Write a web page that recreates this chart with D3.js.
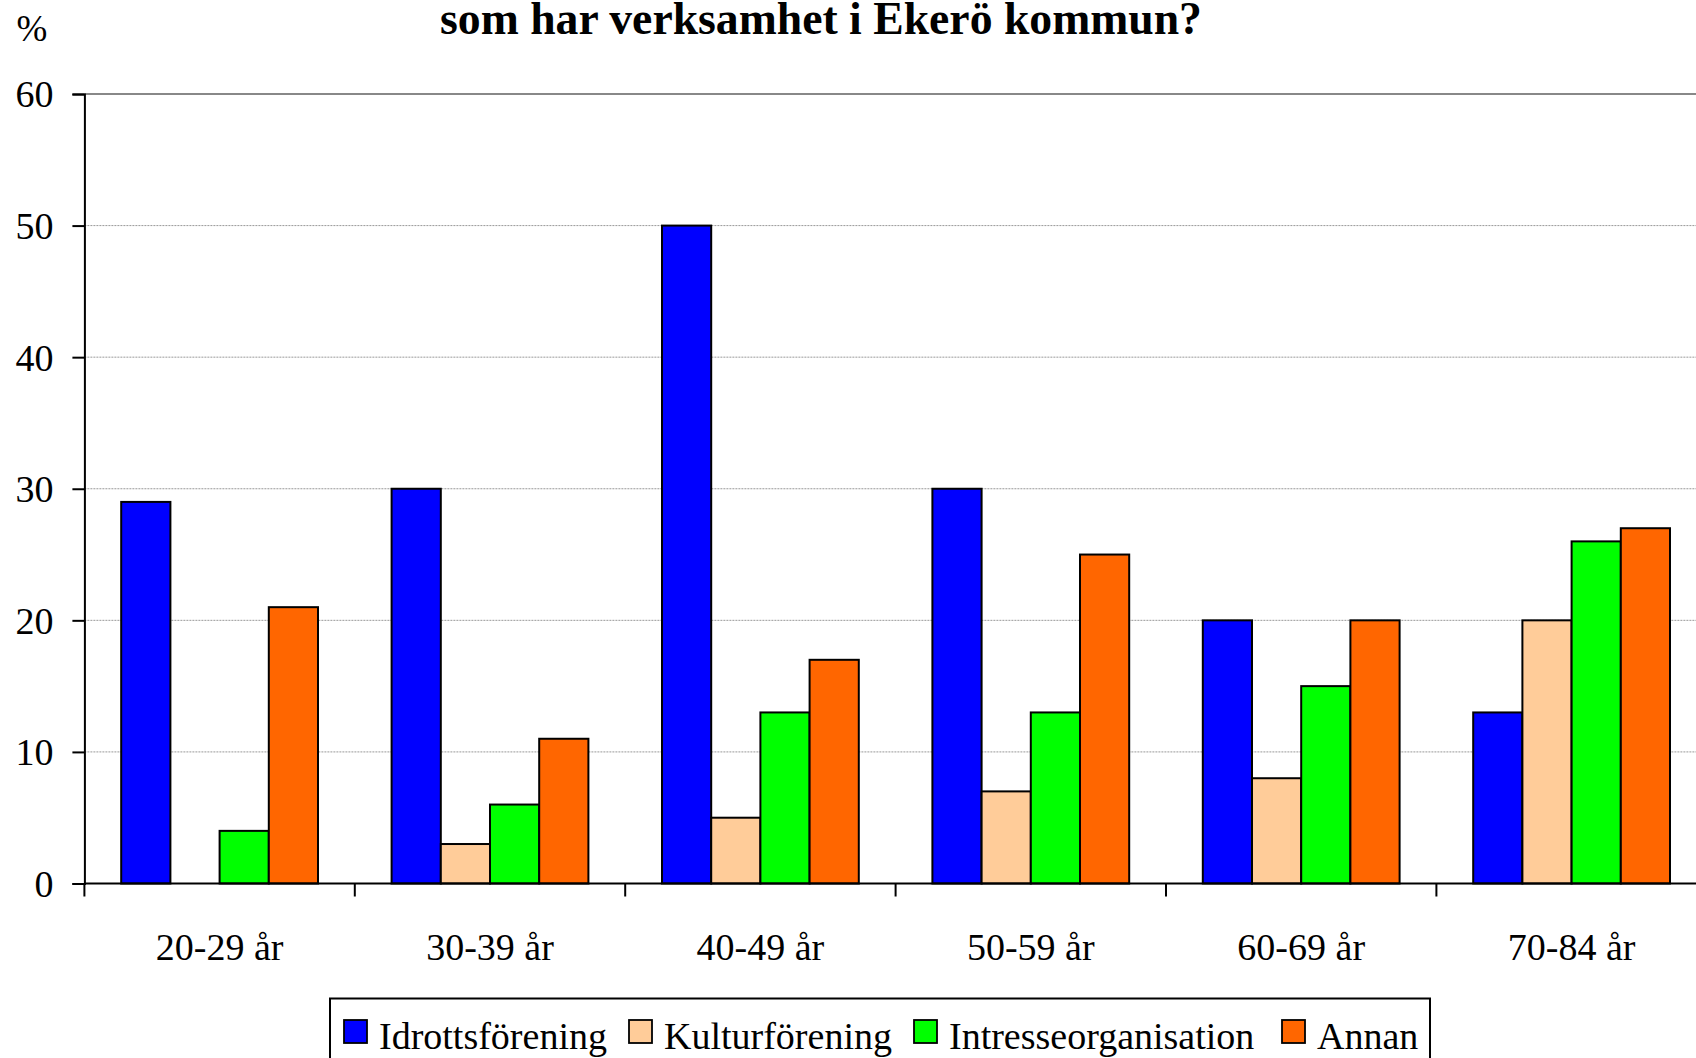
<!DOCTYPE html>
<html><head><meta charset="utf-8">
<script src="https://cdn.jsdelivr.net/npm/d3@7"></script>
<style>html,body{margin:0;padding:0;background:#fff;overflow:hidden}</style>
</head><body>
<script>
const categories = ["20-29 år","30-39 år","40-49 år","50-59 år","60-69 år","70-84 år"];
const seriesNames = ["Idrottsförening","Kulturförening","Intresseorganisation","Annan"];
const idrott = [29,30,50,30,20,13];
const kultur = [0,3,5,7,8,20];
const intresse = [4,6,13,13,15,26];
const annan = [21,11,17,25,20,27];
const yTicks = [0,10,20,30,40,50,60];
const colors = ["#0000FF","#FFCC99","#00FF00","#FF6600"];
const seriesValues = [idrott,kultur,intresse,annan];

const W=1696,H=1058;
const svg=d3.select("body").append("svg").attr("width",W).attr("height",H);
const font="'Liberation Serif','Times New Roman',serif";

const x0=84.4, bandW=270.4;
const x=d3.scaleBand().domain(categories).range([x0,x0+bandW*categories.length]).padding(0);
const xs=d3.scaleBand().domain(seriesNames).range([36.8,bandW-36.8]).padding(0);
const y=d3.scaleLinear().domain([0,60]).range([883.5,94]);

// gridlines
svg.append("g").selectAll("line").data(yTicks.filter(d=>d>0)).join("line")
  .attr("x1",x0).attr("x2",W).attr("y1",d=>y(d)).attr("y2",d=>y(d))
  .attr("stroke",d=>d===60?"#888":"#999").attr("stroke-width",d=>d===60?2:1)
  .attr("stroke-dasharray",d=>d===60?null:"2,1");

// bars
const data=[];
categories.forEach((c,i)=>seriesNames.forEach((s,j)=>data.push({c,s,v:seriesValues[j][i],j})));
svg.append("g").selectAll("rect").data(data.filter(d=>d.v>0)).join("rect")
  .attr("x",d=>x(d.c)+xs(d.s)).attr("width",xs.bandwidth())
  .attr("y",d=>y(d.v)).attr("height",d=>y(0)-y(d.v))
  .attr("fill",d=>colors[d.j]).attr("stroke","#000").attr("stroke-width",2);

// y axis
const ya=svg.append("g").attr("transform",`translate(${x0},0)`)
  .call(d3.axisLeft(y).tickValues(yTicks).tickSize(12).tickPadding(19).tickFormat(d3.format("d")));
ya.select(".domain").attr("stroke","#000").attr("stroke-width",2);
ya.selectAll(".tick line").attr("stroke","#000").attr("stroke-width",2);
ya.selectAll("text").attr("font-family",font).attr("font-size",38).attr("fill","#000").attr("dy","0.34em");

// x axis
const xa=svg.append("g").attr("transform",`translate(0,${y(0)})`)
  .call(d3.axisBottom(x).tickSize(0).tickPadding(0));
xa.select(".domain").remove();
xa.append("line").attr("x1",x0).attr("x2",W).attr("stroke","#000").attr("stroke-width",2);
xa.selectAll(".tick text").attr("font-family",font).attr("font-size",38).attr("fill","#000")
  .attr("dy",null).attr("y",76);
const boundaries=d3.range(categories.length+1).map(i=>x0+i*bandW);
xa.append("g").selectAll("line").data(boundaries).join("line")
  .attr("x1",d=>d).attr("x2",d=>d).attr("y1",0).attr("y2",13).attr("stroke","#000").attr("stroke-width",2);

// title & unit
svg.append("text").attr("x",821).attr("y",34).attr("text-anchor","middle")
  .attr("font-family",font).attr("font-weight","bold").attr("font-size",45.7)
  .text("som har verksamhet i Ekerö kommun?");
svg.append("text").attr("x",32).attr("y",41).attr("text-anchor","middle")
  .attr("font-family",font).attr("font-size",37).text("%");

// legend
const lg=svg.append("g");
lg.append("rect").attr("x",330).attr("y",998.5).attr("width",1100).attr("height",80)
  .attr("fill","#fff").attr("stroke","#000").attr("stroke-width",2);
const legX=[344,629,914,1282];
seriesNames.forEach((s,j)=>{
  lg.append("rect").attr("x",legX[j]).attr("y",1020).attr("width",23).attr("height",23)
    .attr("fill",colors[j]).attr("stroke","#000").attr("stroke-width",1.8);
  lg.append("text").attr("x",legX[j]+35).attr("y",1049).attr("font-family",font)
    .attr("font-size",38).text(s);
});
</script>
</body></html>
